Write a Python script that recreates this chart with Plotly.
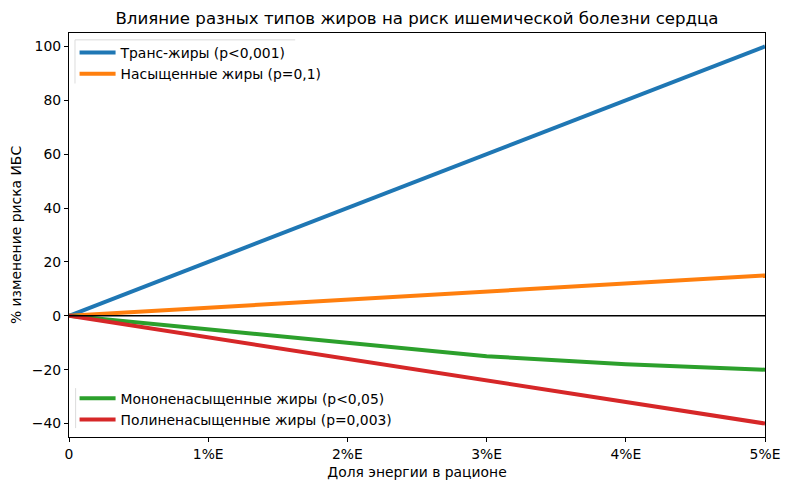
import plotly.graph_objects as go

x_vals = [0, 1, 2, 3, 4, 5]
trans = [0, 20, 40, 60, 80, 100]
saturated = [0, 3, 6, 9, 12, 15]
mono = [0, -5, -10, -15, -18, -20]
poly = [0, -8, -16, -24, -32, -40]
x_tick_vals = [0, 1, 2, 3, 4, 5]
x_tick_text = ["0", "1%E", "2%E", "3%E", "4%E", "5%E"]
y_tick_vals = [-40, -20, 0, 20, 40, 60, 80, 100]

names = [
    "Транс-жиры (p<0,001)",
    "Насыщенные жиры (p=0,1)",
    "Мононенасыщенные жиры (p<0,05)",
    "Полиненасыщенные жиры (p=0,003)",
]
colors = ["#1f77b4", "#ff7f0e", "#2ca02c", "#d62728"]
series = [trans, saturated, mono, poly]
legends = ["legend", "legend", "legend2", "legend2"]

FONT = "DejaVu Sans"
FS = 13.9

fig = go.Figure()
for i, (name, col, ys, lg) in enumerate(zip(names, colors, series, legends)):
    fig.add_trace(go.Scatter(
        x=x_vals, y=ys, mode="lines", name=name,
        line=dict(color=col, width=4), legend=lg, legendgroup=f"g{i}",
    ))

fig.add_hline(y=0, line=dict(color="black", width=1.6))

# faint legend frame remnants
frame_col = "#dcdcdc"
for (x0, y0, x1, y1) in [(0.0086, 0.983, 0.325, 0.983),
                         (0.0086, 0.983, 0.0086, 0.875),
                         (0.0095, 0.121, 0.0095, 0.022)]:
    fig.add_shape(type="line", xref="paper", yref="paper",
                  x0=x0, y0=y0, x1=x1, y1=y1,
                  line=dict(color=frame_col, width=1), layer="below")

axis_common = dict(
    showline=True, linecolor="black", linewidth=1.2, mirror=True,
    ticks="outside", ticklen=4, tickcolor="black", tickwidth=1,
    showgrid=False, zeroline=False,
    tickfont=dict(family=FONT, size=FS, color="black"),
)

fig.update_layout(
    width=782, height=482,
    paper_bgcolor="white", plot_bgcolor="white",
    margin=dict(l=61, r=25, t=25, b=53, autoexpand=False),
    font=dict(family=FONT, size=FS, color="black"),
    title=dict(
        text="Влияние разных типов жиров на риск ишемической болезни сердца",
        x=0.5, xref="paper", xanchor="center",
        y=1 - 10 / 482, yanchor="middle",
        font=dict(family=FONT, size=16.6, color="black"),
    ),
    xaxis=dict(
        range=[0, 5], tickvals=x_tick_vals, ticktext=x_tick_text,
        title=dict(text="Доля энергии в рационе", standoff=6,
                   font=dict(family=FONT, size=FS)),
        **axis_common,
    ),
    yaxis=dict(
        range=[-45, 105], tickvals=y_tick_vals,
        title=dict(text="% изменение риска ИБС", standoff=10,
                   font=dict(family=FONT, size=FS)),
        **axis_common,
    ),
    legend=dict(
        x=0.008, y=0.99, xanchor="left", yanchor="top",
        bgcolor="rgba(255,255,255,0)", borderwidth=0,
        font=dict(family=FONT, size=FS), tracegroupgap=0,
        itemwidth=36,
    ),
    legend2=dict(
        x=0.008, y=0.003, xanchor="left", yanchor="bottom",
        bgcolor="rgba(255,255,255,0)", borderwidth=0,
        font=dict(family=FONT, size=FS), tracegroupgap=0,
        itemwidth=36,
    ),
    showlegend=True,
)

fig.write_html("out.html")
